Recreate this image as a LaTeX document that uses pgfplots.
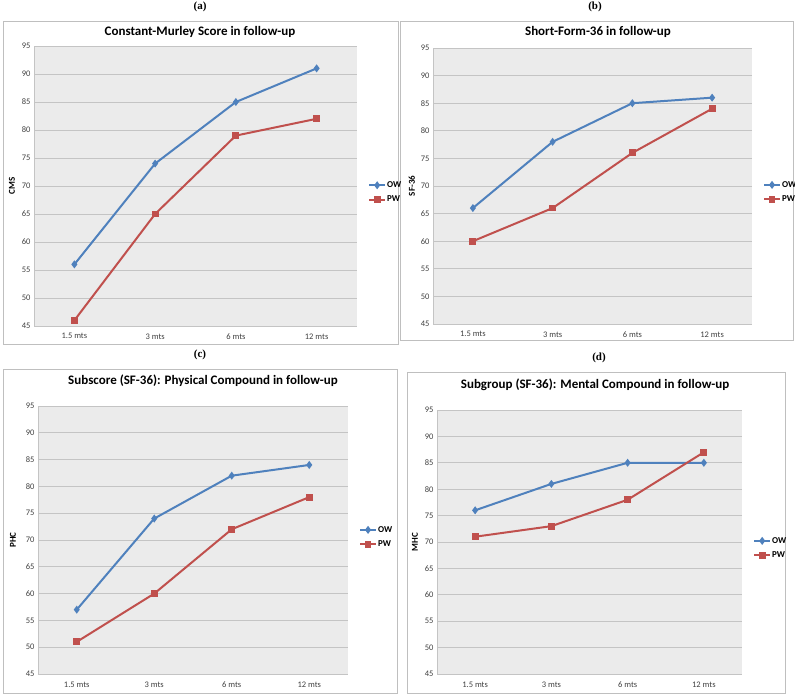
\documentclass[border=0pt]{standalone}
\usepackage{fontspec}
\setmainfont{Carlito}
\newfontfamily\labfont{Liberation Serif}
\usepackage{pgfplots}
\pgfplotsset{compat=1.18}

\definecolor{owblue}{HTML}{4F81BD}
\definecolor{pwred}{HTML}{C0504D}
\definecolor{plotbg}{HTML}{EBEBEB}
\definecolor{gridc}{HTML}{C4C4C4}
\definecolor{framec}{HTML}{BFBFBF}

\pgfplotsset{
  panel/.style={
    scale only axis, anchor=south west,
    xmin=-0.5, xmax=3.5, ymin=45, ymax=95,
    ytick={45,50,...,95},
    xtick={0,1,2,3}, xticklabels={1.5 mts,3 mts,6 mts,12 mts},
    major tick length=0pt,
    ymajorgrids, grid style={gridc, line width=0.8pt},
    axis background/.style={fill=plotbg},
    axis x line*=bottom, axis y line*=left,
    axis line style={gridc, line width=0.8pt},
    tick label style={font=\fontsize{8.5}{10}\selectfont, text=black!75},
    /pgf/number format/assume math mode=true,
    xticklabel style={yshift=-4pt},
    ylabel style={font=\bfseries\fontsize{9}{10}\selectfont, anchor=center},
    legend style={draw=none, fill=none, anchor=west, inner sep=0pt,
      font=\bfseries\fontsize{9}{10}\selectfont, row sep=5pt,
      nodes={inner sep=1pt}},
    legend cell align=left,
    legend image code/.code={\draw[mark repeat=2, mark phase=2, ##1]
      plot coordinates {(0pt,0pt) (8pt,0pt) (16pt,0pt)};},
  },
  ow/.style={owblue, line width=2pt, mark=diamond*, mark size=2.4pt},
  pw/.style={pwred, line width=2pt, mark=square*, mark size=2.4pt},
}

\begin{document}
\begin{tikzpicture}
\useasboundingbox (0pt,0pt) rectangle (795pt,695pt);

% frames
\draw[framec, line width=1pt] (3pt,350pt) rectangle (398pt,673pt);
\draw[framec, line width=1pt] (400pt,354pt) rectangle (793pt,673pt);
\draw[framec, line width=1pt] (3pt,1pt) rectangle (397pt,325pt);
\draw[framec, line width=1pt] (407pt,1pt) rectangle (785pt,322pt);

% panel letters
\node[font=\labfont\bfseries\fontsize{11}{13}\selectfont] at (200pt,688pt) {(a)};
\node[font=\labfont\bfseries\fontsize{11}{13}\selectfont] at (595pt,688pt) {(b)};
\node[font=\labfont\bfseries\fontsize{11}{13}\selectfont] at (200pt,340pt) {(c)};
\node[font=\labfont\bfseries\fontsize{11}{13}\selectfont] at (599pt,337pt) {(d)};

% titles
\node[font=\bfseries\fontsize{13}{15}\selectfont] at (200pt,663pt) {Constant-Murley Score in follow-up};
\node[font=\bfseries\fontsize{13}{15}\selectfont] at (598pt,663pt) {Short-Form-36 in follow-up};
\node[font=\bfseries\fontsize{13}{15}\selectfont] at (203pt,314pt) {Subscore (SF-36): Physical Compound in follow-up};
\node[font=\bfseries\fontsize{13}{15}\selectfont] at (595pt,310pt) {Subgroup (SF-36): Mental Compound in follow-up};

% (a)
\begin{axis}[panel, at={(34pt,369pt)}, width=323pt, height=280pt,
  ylabel={CMS}, ylabel style={at={(axis description cs:-0.068,0.5)}},
  legend style={at={(axis description cs:1.034,0.477)}}]
\addplot[ow] coordinates {(0,56) (1,74) (2,85) (3,91)};
\addlegendentry{OW}
\addplot[pw] coordinates {(0,46) (1,65) (2,79) (3,82)};
\addlegendentry{PW}
\end{axis}

% (b)
\begin{axis}[panel, at={(433pt,371pt)}, width=319pt, height=276pt,
  ylabel={SF-36}, ylabel style={at={(axis description cs:-0.066,0.5)}},
  legend style={at={(axis description cs:1.034,0.478)}}]
\addplot[ow] coordinates {(0,66) (1,78) (2,85) (3,86)};
\addlegendentry{OW}
\addplot[pw] coordinates {(0,60) (1,66) (2,76) (3,84)};
\addlegendentry{PW}
\end{axis}

% (c)
\begin{axis}[panel, at={(38pt,21pt)}, width=310pt, height=268pt,
  ylabel={PHC}, ylabel style={at={(axis description cs:-0.081,0.5)}},
  legend style={at={(axis description cs:1.035,0.511)}}]
\addplot[ow] coordinates {(0,57) (1,74) (2,82) (3,84)};
\addlegendentry{OW}
\addplot[pw] coordinates {(0,51) (1,60) (2,72) (3,78)};
\addlegendentry{PW}
\end{axis}

% (d)
\begin{axis}[panel, at={(437pt,21pt)}, width=305pt, height=264pt,
  ylabel={MHC}, ylabel style={at={(axis description cs:-0.072,0.5)}},
  legend style={at={(axis description cs:1.036,0.477)}}]
\addplot[ow] coordinates {(0,76) (1,81) (2,85) (3,85)};
\addlegendentry{OW}
\addplot[pw] coordinates {(0,71) (1,73) (2,78) (3,87)};
\addlegendentry{PW}
\end{axis}
\end{tikzpicture}
\end{document}
